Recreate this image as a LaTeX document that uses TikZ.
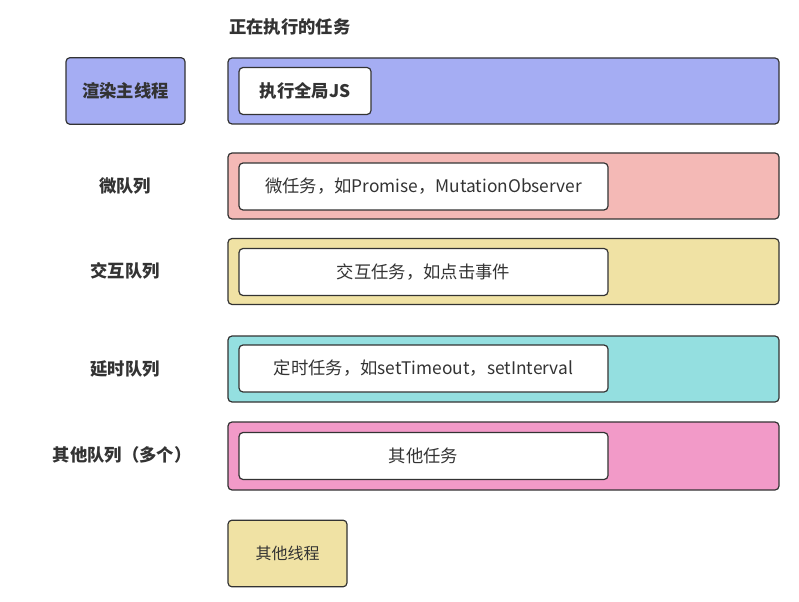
\documentclass[tikz,border=0pt]{standalone}
\usepackage{fontspec}
\setmainfont{Noto Sans CJK SC}
\definecolor{mainblue}{HTML}{A5ADF3}
\definecolor{micropink}{HTML}{F4B9B6}
\definecolor{clickyellow}{HTML}{F0E2A4}
\definecolor{timercyan}{HTML}{94DFE0}
\definecolor{othermagenta}{HTML}{F29AC8}
\definecolor{inkgray}{HTML}{333333}
\tikzset{
  queuebox/.style={draw=inkgray, line width=0.9pt, rounded corners=3pt,
    minimum width=413.25pt, minimum height=49.5pt, inner sep=0pt},
  taskbox/.style={draw=inkgray, line width=0.9pt, rounded corners=3pt, fill=white,
    minimum width=276.75pt, minimum height=35.25pt, inner sep=0pt,
    text=inkgray, font=\fontsize{13pt}{15pt}\selectfont},
  threadbox/.style={draw=inkgray, line width=0.9pt, rounded corners=3pt,
    minimum width=89.25pt, minimum height=50pt, inner sep=0pt, text=inkgray},
  queuename/.style={text=inkgray, font=\fontsize{13pt}{15pt}\selectfont\bfseries}
}

\begin{document}
\begin{tikzpicture}[x=0.75pt, y=-0.75pt]

\useasboundingbox (0,0) rectangle (799,602);

% title
\node [queuename, anchor=west, inner sep=0pt] (title) at (229,27) {正在执行的任务};

% main thread
\node [threadbox, fill=mainblue, font=\fontsize{13pt}{15pt}\selectfont\bfseries] (mainthread) at (125.5,91) {渲染主线程};
\node [queuebox, fill=mainblue] (running) at (503.5,91) {};
\node [taskbox, minimum width=99pt, font=\fontsize{13pt}{15pt}\selectfont\bfseries] (globaljs) at (305,91) {执行全局JS};

% queues
\node [queuename] (microlabel) at (125,186) {微队列};
\node [queuebox, fill=micropink] (microrow) at (503.5,186) {};
\node [taskbox] (microtask) at (423.5,186.5) {微任务，如Promise，MutationObserver};

\node [queuename] (clicklabel) at (125,271) {交互队列};
\node [queuebox, fill=clickyellow] (clickrow) at (503.5,271.5) {};
\node [taskbox] (clicktask) at (423.5,272) {交互任务，如点击事件};

\node [queuename] (timerlabel) at (125,369) {延时队列};
\node [queuebox, fill=timercyan] (timerrow) at (503.5,369) {};
\node [taskbox] (timertask) at (423.5,368.5) {定时任务，如setTimeout，setInterval};

\node [queuename] (otherlabel) at (122,455) {其他队列（多个）};
\node [queuebox, fill=othermagenta, minimum height=51pt] (otherrow) at (503.5,456) {};
\node [taskbox] (othertask) at (423.5,456) {其他任务};

% other thread
\node [threadbox, fill=clickyellow, font=\fontsize{12pt}{14pt}\selectfont] (otherthread) at (287.5,553.5) {其他线程};

\end{tikzpicture}
\end{document}
